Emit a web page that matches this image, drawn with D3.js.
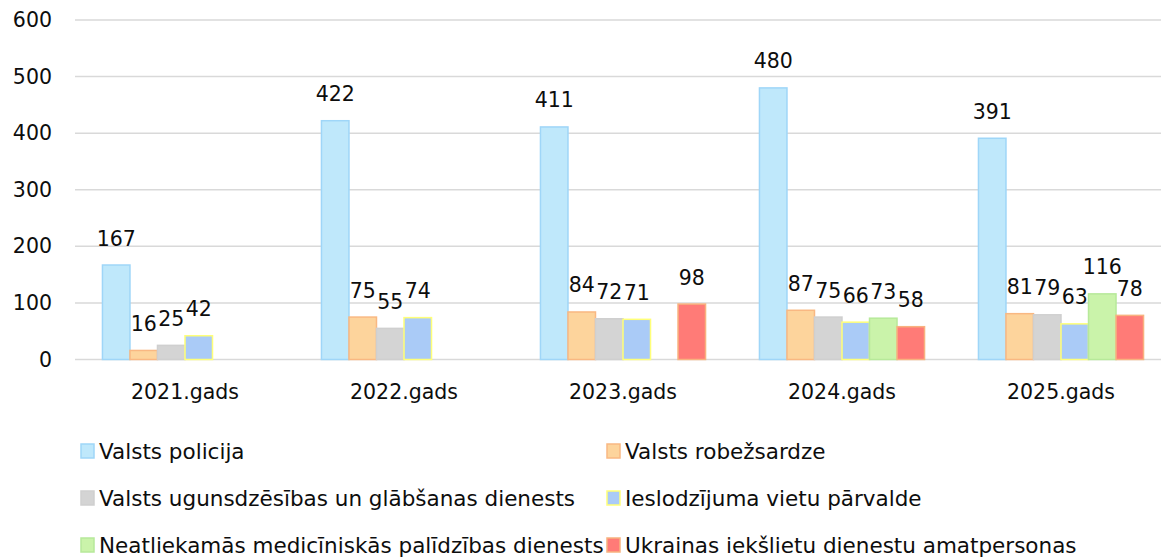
<!DOCTYPE html>
<html>
<head>
<meta charset="utf-8">
<script src="https://cdn.jsdelivr.net/npm/d3@7"></script>
<style>
  body { margin: 0; background: #fff; }
  svg { display: block; }
  text { font-family: 'DejaVu Sans', sans-serif; fill: #0d0d0d; }
</style>
</head>
<body>
<svg width="1161" height="558"></svg>
<script>
let years = ['2021.gads', '2022.gads', '2023.gads', '2024.gads', '2025.gads']
let seriesNames = [
    'Valsts policija',
    'Valsts robežsardze',
    'Valsts ugunsdzēsības un glābšanas dienests',
    'Ieslodzījuma vietu pārvalde',
    'Neatliekamās medicīniskās palīdzības dienests',
    'Ukrainas iekšlietu dienestu amatpersonas'
]
let policija = [167, 422, 411, 480, 391]
let robezsardze = [16, 75, 84, 87, 81]
let ugunsdzesiba = [25, 55, 72, 75, 79]
let ieslodzijums = [42, 74, 71, 66, 63]
let nmpd = [null, null, null, 73, 116]
let ukraina = [null, null, 98, 58, 78]
let yTicks = [0, 100, 200, 300, 400, 500, 600]

let fills = ['#bfe8fb', '#fdd49c', '#d4d4d4', '#aacbf7', '#caf3aa', '#ff7b77']
let strokes = ['#9fd6f8', '#f9b882', '#cfcfcf', '#ffff78', '#b7e99a', '#f8b27f']

let allSeries = [policija, robezsardze, ugunsdzesiba, ieslodzijums, nmpd, ukraina]

let svg = d3.select('svg')

let x0 = d3.scaleBand().domain(years).range([75.5, 1170.5])
let x1 = d3.scaleBand().domain(d3.range(seriesNames.length))
    .range([0, x0.bandwidth()]).paddingOuter(0.98)
let y = d3.scaleLinear().domain([0, 600]).range([359.5, 20])

// gridlines
svg.append('g')
    .selectAll('line')
    .data(yTicks)
    .enter()
    .append('line')
    .attr('x1', 75)
    .attr('x2', 1161)
    .attr('y1', d => y(d))
    .attr('y2', d => y(d))
    .attr('stroke', '#d9d9d9')
    .attr('stroke-width', 1.5)

// y axis labels
let yAxis = svg.append('g')
    .attr('transform', 'translate(60,0)')
    .call(d3.axisLeft(y).tickValues(yTicks).tickSize(0).tickPadding(8))
yAxis.select('.domain').remove()
yAxis.selectAll('text')
    .style('font-size', '20.5px')
    .style('font-family', 'DejaVu Sans, sans-serif')
    .attr('fill', '#0d0d0d')

// x axis labels
let xAxis = svg.append('g')
    .attr('transform', 'translate(0,' + y(0) + ')')
    .call(d3.axisBottom(x0).tickSize(0).tickPadding(25))
xAxis.select('.domain').remove()
xAxis.selectAll('text')
    .style('font-size', '20.5px')
    .style('font-family', 'DejaVu Sans, sans-serif')
    .attr('fill', '#0d0d0d')

let barData = []
allSeries.forEach((vals, s) => {
    vals.forEach((v, i) => {
        if (v !== null) {
            barData.push({ year: years[i], s: s, value: v })
        }
    })
})

let bars = svg.append('g')
bars.selectAll('rect')
    .data(barData)
    .enter()
    .append('rect')
    .attr('x', d => x0(d.year) + x1(d.s))
    .attr('y', d => y(d.value))
    .attr('width', x1.bandwidth())
    .attr('height', d => y(0) - y(d.value))
    .attr('fill', d => fills[d.s])
    .attr('stroke', d => strokes[d.s])
    .attr('stroke-width', 1.5)

bars.selectAll('text')
    .data(barData)
    .enter()
    .append('text')
    .attr('x', d => x0(d.year) + x1(d.s) + x1.bandwidth() / 2)
    .attr('y', d => y(d.value) - 19.5)
    .attr('text-anchor', 'middle')
    .style('font-size', '20.5px')
    .text(d => d.value)

// legend
let legend = svg.append('g')
let legendItems = legend.selectAll('g')
    .data(seriesNames)
    .enter()
    .append('g')
    .attr('transform', (d, i) => {
        let col = i % 2
        let row = Math.floor(i / 2)
        return 'translate(' + (col === 0 ? 81 : 607) + ',' + (451 + row * 47) + ')'
    })
legendItems.append('rect')
    .attr('x', 0)
    .attr('y', -7)
    .attr('width', 13)
    .attr('height', 14)
    .attr('fill', (d, i) => fills[i])
    .attr('stroke', (d, i) => strokes[i])
    .attr('stroke-width', 1.5)
legendItems.append('text')
    .attr('x', 18)
    .attr('y', 7.5)
    .style('font-size', '21.5px')
    .text(d => d)
</script>
</body>
</html>
